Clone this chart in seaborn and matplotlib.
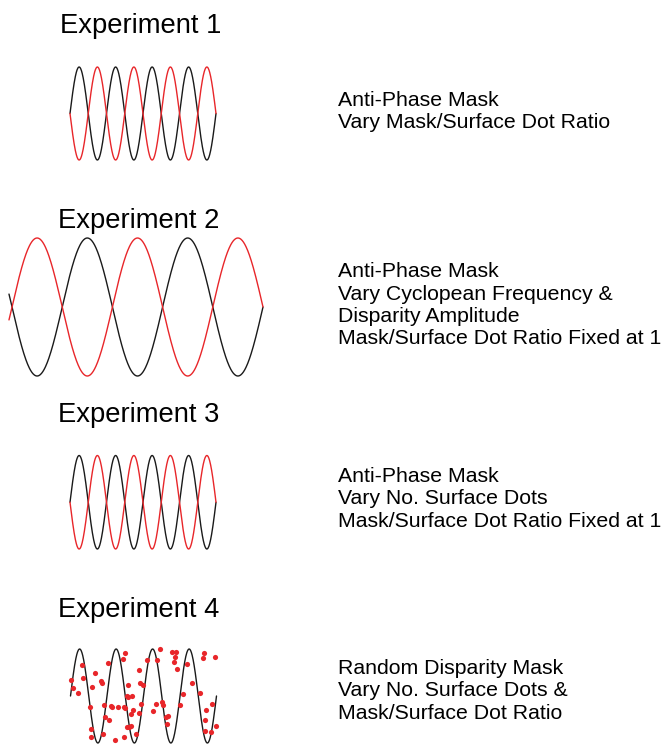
import numpy as np
import matplotlib
matplotlib.use("Agg")
import matplotlib.pyplot as plt
import seaborn as sns

# --- data ---
titles = ["Experiment 1", "Experiment 2", "Experiment 3", "Experiment 4"]
descriptions = [
    ["Anti-Phase Mask", "Vary Mask/Surface Dot Ratio"],
    ["Anti-Phase Mask", "Vary Cyclopean Frequency &", "Disparity Amplitude",
     "Mask/Surface Dot Ratio Fixed at 1"],
    ["Anti-Phase Mask", "Vary No. Surface Dots", "Mask/Surface Dot Ratio Fixed at 1"],
    ["Random Disparity Mask", "Vary No. Surface Dots &", "Mask/Surface Dot Ratio"],
]
cycles = [4, 2.5, 4, 4]            # number of cycles drawn in each panel
phase_start = [0, -0.03, 0, 0]     # start of the drawn wave (cycles)
black_sign = [1, -1, 1, 1]         # black wave = sign * sin, red = -sign * sin
has_mask_wave = [True, True, True, False]

# Experiment 4 random disparity mask dots (x in cycles, y in amplitude units)
dots_x = [0.01, 0.06, 0.20, 0.32, 0.35, 0.53, 0.58, 0.67, 0.83, 0.87,
          0.56, 0.57, 0.90, 0.91, 0.94, 1.06, 1.03, 1.10, 1.13, 1.22,
          1.31, 1.43, 1.50, 1.46, 1.46, 1.50, 1.54, 1.57, 1.58, 1.68,
          1.72, 1.65, 1.54, 1.59, 1.66, 1.79, 1.88, 1.90, 1.99, 1.93,
          1.88, 2.10, 2.38, 2.46, 2.78, 2.89, 2.87, 2.83, 2.91, 3.18,
          3.32, 3.08, 3.00, 2.34, 2.51, 2.54, 2.25, 2.61, 2.66, 2.64,
          3.65, 3.64, 3.96, 3.56, 3.88, 3.72, 3.68, 3.69, 3.86, 3.99]
dots_y = [0.33, 0.18, 0.07, 0.65, 0.39, -0.23, 0.19, 0.50, 0.31, 0.27,
          -0.71, -0.87, -0.81, -0.19, -0.45, -0.52, 0.71, -0.21, -0.24, -0.94,
          -0.24, 0.78, 0.91, -0.88, -0.23, -0.26, 0.01, -0.03, 0.23, 0.01,
          -0.30, -0.38, -0.65, -0.67, -0.63, -0.80, 0.56, 0.27, 0.23, -0.16,
          -0.36, 0.76, 0.76, 0.99, 0.94, 0.94, 0.83, 0.72, 0.58, 0.68,
          0.27, 0.05, -0.19, -0.16, -0.12, -0.20, -0.32, -0.44, -0.43, -0.60,
          0.91, 0.80, 0.84, 0.06, -0.17, -0.30, -0.51, -0.74, -0.76, -0.64]

BLACK = "#1a1a1a"
RED = "#e8262a"

W, H = 669, 745
# panel boxes in pixels: x0, x1, y_top, y_bottom
wave_boxes = [(70, 216, 67, 160), (12, 263, 238, 376),
              (70, 216, 455.5, 549), (70.5, 216.5, 649, 743)]
title_pos = [(60, 33), (58, 227.5), (58, 422), (58, 617)]
desc_pos = [(338, 105.7), (338, 277), (338, 481.7), (338, 674)]
line_step = 22.5

sns.set_theme(style="white")
plt.rcParams["font.family"] = ["Liberation Sans", "DejaVu Sans"]

fig = plt.figure(figsize=(W / 100, H / 100), dpi=100)
fig.patch.set_facecolor("white")

for i in range(4):
    x0, x1, yt, yb = wave_boxes[i]
    ax = fig.add_axes([x0 / W, 1 - yb / H, (x1 - x0) / W, (yb - yt) / H])
    t = np.linspace(phase_start[i], cycles[i], 600)
    wave = np.sin(2 * np.pi * t)
    sns.lineplot(x=t, y=black_sign[i] * wave, ax=ax, color=BLACK, lw=1.0,
                 estimator=None, sort=False)
    if has_mask_wave[i]:
        sns.lineplot(x=t, y=-black_sign[i] * wave, ax=ax, color=RED, lw=1.0,
                     estimator=None, sort=False)
    else:
        sns.scatterplot(x=dots_x, y=dots_y, ax=ax, color=RED, s=14,
                        linewidth=0, zorder=3)
    for ln in ax.lines + ax.collections:
        ln.set_clip_on(False)
    ax.set_xlim(0, cycles[i])
    ax.set_ylim(-1, 1)
    ax.set_axis_off()

    tx, ty = title_pos[i]
    fig.text(tx / W, 1 - ty / H, titles[i], fontsize=19.7, color="black",
             ha="left", va="baseline")
    dx, dy = desc_pos[i]
    for k, line in enumerate(descriptions[i]):
        fig.text(dx / W, 1 - (dy + k * line_step) / H, line, fontsize=15.3,
                 color="black", ha="left", va="baseline")

fig.savefig("out.png", dpi=100, facecolor="white")
